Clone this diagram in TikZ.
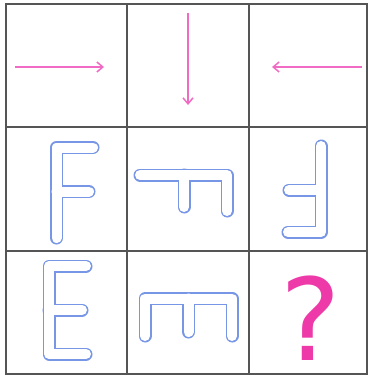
\documentclass[tikz,border=0pt]{standalone}
\usepackage{fontspec}
\newfontfamily\qfont{DejaVu Sans}
\usetikzlibrary{arrows.meta}
\definecolor{gridc}{HTML}{555555}
\definecolor{arrowc}{HTML}{F06CC4}
\definecolor{qc}{HTML}{EE3AA8}
\definecolor{letc}{HTML}{7896E6}
\tikzset{
  cellline/.style={draw=gridc, line width=1.9pt},
  pinkarrow/.style={draw=arrowc, line width=1.5pt, -{Straight Barb[length=6pt,width=10pt,line width=1.5pt]}},
  outerstroke/.style={draw=letc, line width=13pt, line cap=round, line join=round},
  innerstroke/.style={draw=white, line width=10pt, line cap=round, line join=round},
}
\newcommand{\glyphF}[1]{%
  \foreach \s in {outerstroke,innerstroke}{\draw[\s] #1;}}
\begin{document}
\begin{tikzpicture}[x=1pt,y=-1pt]
\useasboundingbox (0,0) rectangle (368,380);
\fill[white] (0,0) rectangle (368,380);
% grid
\draw[cellline] (6,4) rectangle (367,374);
\draw[cellline] (127,4) -- (127,374);
\draw[cellline] (249,4) -- (249,374);
\draw[cellline] (6,127) -- (367,127);
\draw[cellline] (6,251) -- (367,251);
% arrows
\coordinate (a1s) at (15,67); \coordinate (a1e) at (104,67);
\coordinate (a2s) at (188,13); \coordinate (a2e) at (188,105);
\coordinate (a3s) at (362,67); \coordinate (a3e) at (272,67);
\draw[pinkarrow] (a1s) -- (a1e);
\draw[pinkarrow] (a2s) -- (a2e);
\draw[pinkarrow] (a3s) -- (a3e);
% F
\glyphF{(93,147.5) -- (56.5,147.5) -- (56.5,238) (56.5,191.5) -- (89,191.5)}
% F rotated 90 cw
\glyphF{(140,175) -- (227,175) -- (227,211) (184,175) -- (184,207)}
% F rotated 180
\glyphF{(321,146) -- (321,232) -- (288,232) (321,190) -- (289,190)}
% E
\glyphF{(86,266) -- (49,266) -- (49,354) -- (86,354) (49,310) -- (82,310)}
% E rotated
\glyphF{(145,336) -- (145,298.5) -- (232,298.5) -- (232,336) (188.5,298.5) -- (188.5,332)}
% question mark
\node[text=qc, inner sep=0pt, anchor=base] (q) at (311,360) {\qfont\fontsize{114pt}{114pt}\selectfont ?};
\end{tikzpicture}
\end{document}
